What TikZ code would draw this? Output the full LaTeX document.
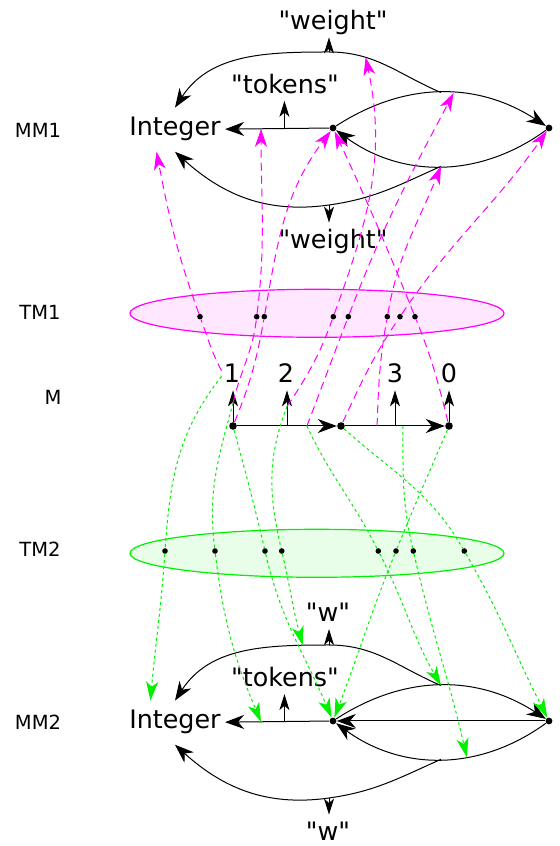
\documentclass[tikz,border=0pt]{standalone}
\usepackage{fontspec}
\setmainfont{DejaVu Sans}[Ligatures=TeXOff]
\usetikzlibrary{arrows.meta,shapes.geometric}

\definecolor{tmmag}{RGB}{255,0,255}
\definecolor{tmgreen}{RGB}{0,240,0}

\tikzset{
  vertex/.style={circle, fill=black, inner sep=0pt, minimum size=3.4pt},
  tmdot/.style={circle, fill=black, inner sep=0pt, minimum size=2.8pt},
  conn/.style={line width=0.5pt, -{Stealth[length=9.5pt,width=7pt,inset=3pt]}},
  lbltick/.style={line width=0.5pt, -{Stealth[length=8pt,width=5pt,inset=2.2pt]}},
  lbl/.style={font=\fontsize{12.7}{15}\selectfont, text height=9.5pt, text depth=0pt, inner xsep=1pt, inner ysep=3.5pt, anchor=base},
  intg/.style={font=\fontsize{12.7}{15}\selectfont, text height=9.5pt, text depth=3.2pt, inner xsep=2pt, inner ysep=4.5pt, anchor=base},
  side/.style={font=\fontsize{9.75}{12}\selectfont, anchor=base},
  tmset/.style={ellipse, draw=#1, fill=#1!9, line width=0.6pt, minimum width=187pt, minimum height=24pt, inner sep=0pt},
  tmone/.style={draw=tmmag, line width=0.5pt, dash pattern=on 4pt off 2.5pt, -{Stealth[length=9pt,width=6pt,inset=2.6pt]}},
  tmtwo/.style={draw=tmgreen, line width=0.5pt, dash pattern=on 1.5pt off 1.5pt, -{Stealth[length=9.5pt,width=6pt,inset=2.6pt]}},
}

\begin{document}
\begin{tikzpicture}[x=0.5pt, y=0.5pt]
\useasboundingbox (0,0) rectangle (559,846);

\node[side] (lmm1) at (38,708) {MM1};
\node[side] (ltm1) at (40,526) {TM1};
\node[side] (lm) at (53,441) {M};
\node[side] (ltm2) at (40,289) {TM2};
\node[side] (lmm2) at (38,116) {MM2};

% the two typing sets
\node[tmset=tmmag] (set1) at (317,532.7) {};
\node[tmset=tmgreen] (set2) at (317,292.7) {};
\foreach \x [count=\i] in {200,256.7,264.3,333.3,348.3,387.3,400,415}
  \node[tmdot] (d\i) at (\x,529.3) {};
\foreach \x [count=\i] in {165,215,265,281.7,378.3,396,413.3,464.3}
  \node[tmdot] (e\i) at (\x,295) {};

% MM1
\node[intg] (int1) at (175,710) {Integer};
\node[vertex] (p1) at (333,718) {};
\node[vertex] (t1) at (549,718) {};
\node[lbl] (tok1) at (285,752.5) {"tokens"};
\node[lbl] (w1) at (333,816) {"weight"};
\node[lbl] (w2) at (333,597) {"weight"};
\coordinate (wa1) at (329,794);
\coordinate (wb1) at (329,641);
\draw[conn] (p1) -- coordinate[pos=.43] (tk1) coordinate[pos=.655] (tk1m) (int1);
\draw[conn] (p1) to[bend left=33] coordinate[pos=.5] (pre1) coordinate[pos=.56] (pre1b) (t1);
\draw[conn] (t1) to[bend left=36] coordinate[pos=.5] (post1) (p1);
\draw[conn] (pre1) to[out=157,in=0] coordinate[pos=.7] (wt1) (wa1) to[out=180,in=57] (int1.north);
\draw[conn] (post1) to[out=204,in=8] (wb1) to[out=188,in=-42] (int1.south);
\draw[lbltick] (tk1) -- (tk1 |- tok1.south);
\draw[lbltick] (wa1) -- (wa1 |- w1.south);
\draw[lbltick] (wb1) -- (wb1 |- w2.north);

% M
\node[vertex, minimum size=3.8pt] (a) at (233,420) {};
\node[vertex, minimum size=3.8pt] (b) at (341,420) {};
\node[vertex, minimum size=3.8pt] (c) at (449,420) {};
\node[lbl] (one) at (232,463) {1};
\node[lbl] (two) at (286,463) {2};
\node[lbl] (three) at (395,463) {3};
\node[lbl] (zero) at (449,463) {0};
\draw[conn] (a) -- coordinate[midway] (ab) coordinate[pos=.7] (abm) (b);
\draw[conn] (b) -- coordinate[midway] (bc) coordinate[pos=.32] (bcl) coordinate[pos=.58] (bcr) (c);
\draw[lbltick] (a) -- coordinate[pos=.6] (a1) (a |- one.south);
\draw[lbltick] (ab) -- coordinate[pos=.55] (ab1) (ab |- two.south);
\draw[lbltick] (bc) -- (bc |- three.south);
\draw[lbltick] (c) -- (c |- zero.south);

% MM2
\node[intg] (int2) at (175,117) {Integer};
\node[vertex] (p2) at (333,125) {};
\node[vertex] (t2) at (549,125) {};
\node[lbl] (tok2) at (285,159.3) {"tokens"};
\node[lbl] (w3) at (328,224.3) {"w"};
\node[lbl] (w4) at (328,5) {"w"};
\coordinate (wa2) at (329,201);
\coordinate (wb2) at (329,48);
\draw[conn] (p2) -- coordinate[pos=.43] (tk2) coordinate[pos=.655] (tk2m) (int2);
\draw[conn] (t2) -- (p2);
\draw[conn] (p2) to[bend left=33] coordinate[pos=.5] (pre2) (t2);
\draw[conn] (t2) to[bend left=36] coordinate[pos=.5] (post2) coordinate[pos=.38] (post2b) (p2);
\draw[conn] (pre2) to[out=157,in=0] (wa2) to[out=180,in=57] coordinate[pos=.14] (wt2) (int2.north);
\draw[conn] (post2) to[out=204,in=8] (wb2) to[out=188,in=-42] (int2.south);
\draw[lbltick] (tk2) -- (tk2 |- tok2.south);
\draw[lbltick] (wa2) -- (wa2 |- w3.south);
\draw[lbltick] (wb2) -- (wb2 |- w4.north);

% TM1: M -> MM1
\draw[tmone] (one.165) to[out=118,in=-70] (d1) to[out=110,in=-79] (int1.230);
\draw[tmone] (a1) to[out=77,in=-97] (d2) to[out=83,in=-90] (tk1m);
\draw[tmone] (a) to[out=68,in=-100] (d3) to[out=80,in=-127] (p1);
\draw[tmone] (ab1) to[out=56,in=-110] (d4) to[out=70,in=-78] (wt1);
\draw[tmone] (abm) to[out=69,in=-111] (d5) to[out=69,in=-118] (pre1b);
\draw[tmone] (bcl) to[out=88,in=-100] (d6) to[out=80,in=-112] (post1);
\draw[tmone] (b) to[out=65,in=-124] (d7) to[out=56,in=-125] (t1);
\draw[tmone] (c) to[out=104,in=-68] (d8) to[out=112,in=-65] (p1);

% TM2: M -> MM2
\draw[tmtwo] (one.195) to[out=232,in=86] (e1) to[out=266,in=85] (int2.138);
\draw[tmtwo] (a1) to[out=255,in=97] (e2) to[out=277,in=113] (tk2m);
\draw[tmtwo] (a) to[out=285,in=103] (e3) to[out=283,in=113] (p2);
\draw[tmtwo] (ab1) to[out=249,in=103] (e4) to[out=283,in=105] (wt2);
\draw[tmtwo] (abm) to[out=295,in=117] (e5) to[out=297,in=120] (pre2);
\draw[tmtwo] (c) to[out=247,in=68] (e6) to[out=248,in=69] (p2);
\draw[tmtwo] (bcr) to[out=270,in=103] (e7) to[out=283,in=103] (post2b);
\draw[tmtwo] (b) to[out=318,in=120] (e8) to[out=300,in=117] (t2);
\end{tikzpicture}
\end{document}
